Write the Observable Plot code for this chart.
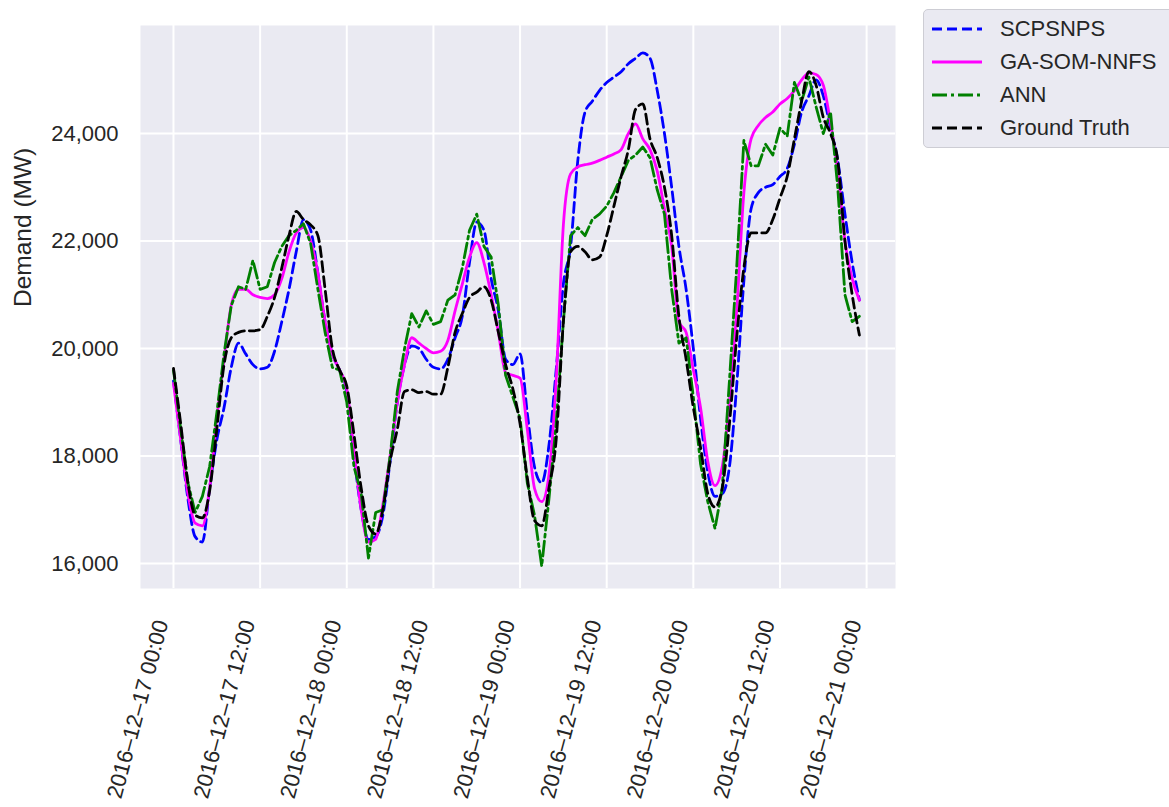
<!DOCTYPE html>
<html>
<head>
<meta charset="utf-8">
<script src="https://cdn.jsdelivr.net/npm/d3@7"></script>
<script src="https://cdn.jsdelivr.net/npm/@observablehq/plot@0.6"></script>
<style>
  body { margin: 0; background: #fff; overflow: hidden; font-family: "Liberation Sans", Arial, sans-serif; }
  #wrap { position: relative; width: 1169px; height: 807px; overflow: hidden; }
  #legend { position: absolute; left: 923px; top: 9px; width: 262px; height: 139px; box-sizing: border-box;
            background: #EAEAF2; border: 1px solid #cdcdd4; border-radius: 5px; }
  .item { position: absolute; left: 0; height: 32px; width: 260px; }
  .item svg { position: absolute; left: 6px; top: 0; }
  .item span { position: absolute; left: 76px; top: 0; line-height: 32px; font-size: 22px; color: #262626; white-space: nowrap; }
</style>
</head>
<body>
<div id="wrap"><div id="chart"></div><div id="legend"></div></div>
<script>
// ---------- data (hourly, starting 2016-12-17 00:00) ----------
const seriesNames = ["SCPSNPS", "GA-SOM-NNFS", "ANN", "Ground Truth"];
const tickLabels = ["2016\u201312\u201317 00:00", "2016\u201312\u201317 12:00", "2016\u201312\u201318 00:00",
  "2016\u201312\u201318 12:00", "2016\u201312\u201319 00:00", "2016\u201312\u201319 12:00",
  "2016\u201312\u201320 00:00", "2016\u201312\u201320 12:00", "2016\u201312\u201321 00:00"];
const yTicks = [16000, 18000, 20000, 22000, 24000];
const yLabel = "Demand (MW)";

const scpsnps = [19400,18300,17200,16500,16400,17400,18300,18900,19650,20100,
  19900,19700,19620,19650,19950,20500,21100,21800,22400,22200,
  21400,20500,19900,19600,19200,18000,17000,16450,16500,16900,
  17900,19000,19700,20050,20000,19800,19650,19620,19800,20200,
  20600,21600,22350,22200,21300,20700,19800,19700,19900,18800,
  17800,17500,18200,19600,21200,21900,23500,24400,24600,24800,
  24950,25050,25150,25300,25400,25500,25400,24800,24000,23000,
  21900,21100,20000,18700,17700,17250,17300,17800,19300,21260,
  22600,22900,23000,23050,23200,23350,23800,24400,24700,25000,
  24700,24100,23500,22500,21600,20900];

const gaSomNnfs = [19350,18300,17300,16750,16700,17400,18700,19800,20800,21100,
  21100,21000,20950,20930,21000,21300,21800,22150,22250,22000,
  21400,20500,19900,19600,19250,18100,17000,16400,16450,17100,
  18000,19000,19700,20200,20100,20000,19920,19950,20150,20700,
  21200,21700,21970,21600,21000,20300,19550,19500,19450,18500,
  17400,17150,17650,19400,22300,23250,23380,23420,23450,23500,
  23560,23620,23700,24000,24180,23900,23700,23300,22600,21900,
  20500,20300,19600,18900,17900,17450,17800,19000,20700,22900,
  23900,24150,24300,24400,24550,24650,24800,25000,25130,25100,
  24900,24200,23300,22000,21300,20900];

const ann = [19600,18500,17500,16950,17250,17800,18800,19900,20800,21150,
  21100,21640,21100,21150,21600,21900,22100,22200,22320,21950,
  21100,20300,19650,19600,19000,17800,17300,16100,16950,17000,
  18000,19200,20000,20650,20400,20700,20450,20500,20900,21000,
  21500,22200,22500,21900,21700,20800,19500,19100,18700,17500,
  16900,15950,17200,18600,20500,22100,22250,22100,22400,22500,
  22650,22900,23200,23500,23600,23750,23550,22950,22500,21100,
  20100,20200,19100,17850,17150,16650,17400,19400,21500,23870,
  23400,23400,23800,23600,24100,23950,24950,24600,25050,24500,
  24000,24400,23000,21000,20500,20600];

const groundTruth = [19630,18600,17500,16900,16850,17350,18500,19700,20200,20300,
  20330,20330,20350,20600,20950,21500,22100,22550,22400,22300,
  22100,21100,20000,19600,19300,18400,17400,16700,16550,17000,
  17900,18500,19200,19230,19180,19200,19150,19150,19650,20300,
  20650,20950,21050,21150,20900,20300,19700,19250,18600,17600,
  16800,16700,17400,18300,20500,21800,21900,21800,21650,21700,
  22100,22650,23200,23700,24450,24550,23900,23550,23000,22100,
  20600,19800,18900,18160,17300,17050,17400,18600,20200,21500,
  22150,22150,22150,22400,22800,23200,23900,24600,25150,24900,
  24300,24000,23500,22000,21000,20250];

const seriesValues = [scpsnps, gaSomNnfs, ann, groundTruth];
const seriesColors = ["#0000FF", "#FF00FF", "#008000", "#000000"];
const seriesDash = ["10,5", null, "15,4,3,4", "10,5"];
const seriesCurve = ["monotone-x", "monotone-x", "linear", "monotone-x"];

// ---------- build ----------
const H = 3600e3;
const start = Date.UTC(2016, 11, 17, 0, 0);
const times = seriesValues[0].map((_, i) => new Date(start + i * H));
const tickDates = tickLabels.map((_, i) => new Date(start + i * 12 * H));

const lines = seriesNames.map((name, s) =>
  Plot.line(seriesValues[s].map((v, i) => ({t: times[i], v, name})), {
    x: "t", y: "v",
    stroke: seriesColors[s],
    strokeWidth: 2.8,
    strokeDasharray: seriesDash[s] || undefined,
    curve: seriesCurve[s]
  })
);

const chart = Plot.plot({
  width: 1169,
  height: 807,
  marginLeft: 140,
  marginRight: 274,
  marginTop: 25,
  marginBottom: 219,
  style: {fontFamily: "'Liberation Sans', Arial, sans-serif", color: "#262626", background: "white"},
  x: {type: "utc", domain: [new Date(start - 4.57 * H), new Date(start + 100 * H)], label: null},
  y: {domain: [15535, 26010], label: null},
  marks: [
    Plot.frame({fill: "#EAEAF2", stroke: null}),
    Plot.gridX(tickDates, {stroke: "white", strokeOpacity: 1, strokeWidth: 2}),
    Plot.gridY(yTicks, {stroke: "white", strokeOpacity: 1, strokeWidth: 2}),
    ...lines,
    Plot.axisY(yTicks, {tickSize: 0, tickPadding: 22, fontSize: 22, tickFormat: d3.format(","), label: null}),
    Plot.axisX(tickDates, {
      tickSize: 0, tickPadding: 34, tickRotate: -75, textAnchor: "end", lineAnchor: "bottom",
      dx: -5, fontSize: 22, label: null,
      tickFormat: d => tickLabels[tickDates.findIndex(t => +t === +d)]
    }),
    Plot.text([yLabel], {text: d => d, frameAnchor: "left", rotate: -90, dx: -117, fontSize: 24.5, lineAnchor: "middle", fill: "#262626"})
  ]
});
document.getElementById("chart").appendChild(chart);

// ---------- legend ----------
const legend = document.getElementById("legend");
const rowTops = [3, 36, 69, 102];
seriesNames.forEach((name, s) => {
  const item = document.createElement("div");
  item.className = "item";
  item.style.top = rowTops[s] + "px";
  const dash = seriesDash[s] ? `stroke-dasharray="${seriesDash[s]}"` : "";
  item.innerHTML = `<svg width="54" height="32"><line x1="2" y1="16" x2="52" y2="16" stroke="${seriesColors[s]}" stroke-width="2.8" ${dash}/></svg><span>${name}</span>`;
  legend.appendChild(item);
});
</script>
</body>
</html>
